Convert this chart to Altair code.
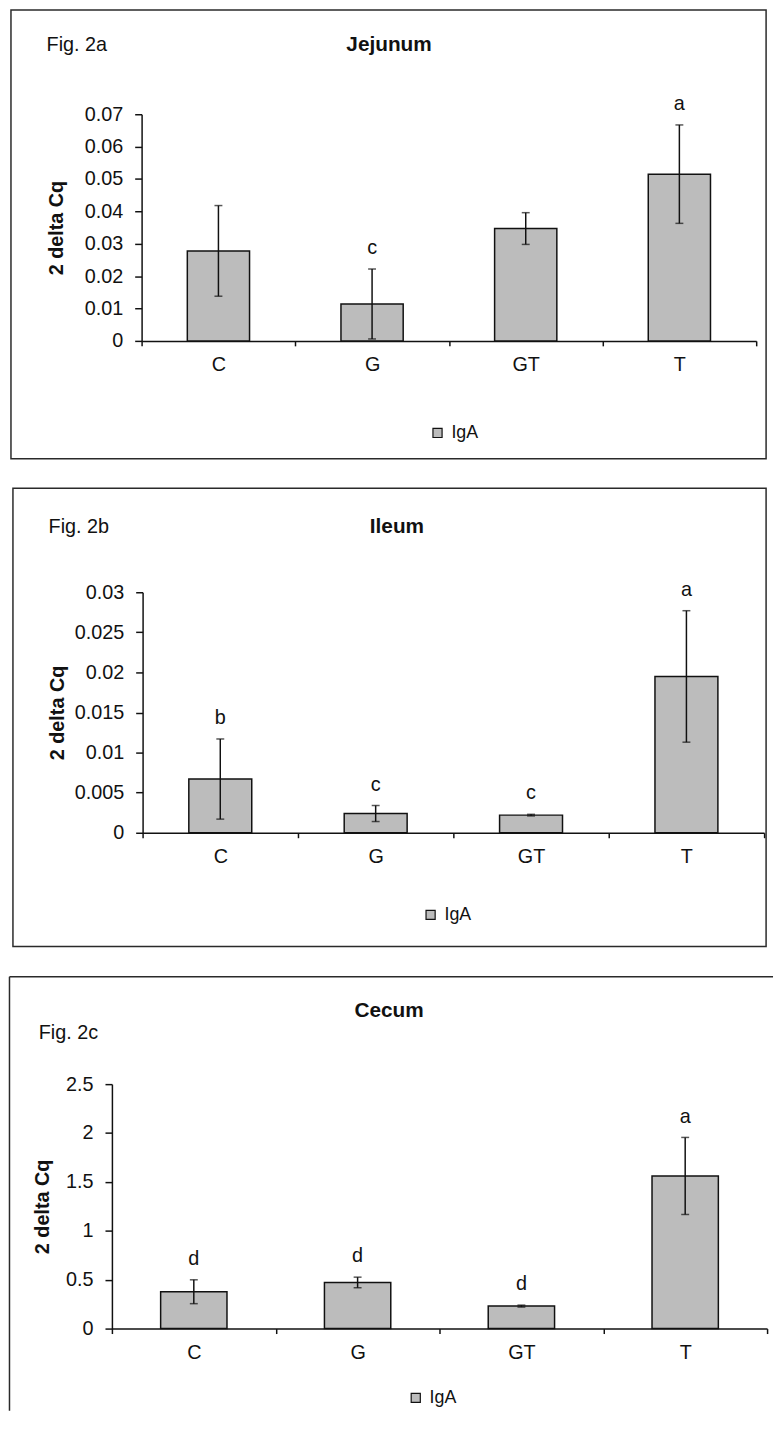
import altair as alt
import pandas as pd

categories = ["C", "G", "GT", "T"]

jejunum_values = [0.0278, 0.0114, 0.0347, 0.0515]
jejunum_errors = [0.0140, 0.0108, 0.0049, 0.0152]
jejunum_letters = ["", "c", "", "a"]
jejunum_ticks = [0, 0.01, 0.02, 0.03, 0.04, 0.05, 0.06, 0.07]

ileum_values = [0.0067, 0.0024, 0.0022, 0.0195]
ileum_errors = [0.0050, 0.0010, 0.0001, 0.0082]
ileum_letters = ["b", "c", "c", "a"]
ileum_ticks = [0, 0.005, 0.01, 0.015, 0.02, 0.025, 0.03]

cecum_values = [0.377, 0.472, 0.230, 1.561]
cecum_errors = [0.122, 0.054, 0.010, 0.394]
cecum_letters = ["d", "d", "d", "a"]
cecum_ticks = [0, 0.5, 1, 1.5, 2, 2.5]

FONT = "Liberation Sans"
BAR_FILL = "#bcbcbc"
INK = "#111111"


def one_row():
    return pd.DataFrame({"k": [0]})


def text_layer(txt, x, y, size, bold, align):
    return alt.Chart(one_row()).mark_text(
        text=txt, font=FONT, fontSize=size, fontWeight="bold" if bold else "normal",
        align=align, baseline="alphabetic", color=INK,
    ).encode(x=alt.value(x), y=alt.value(y))


def panel(title, fig, values, errors, letters, ticks, ymax, shift, w, h,
          title_pos, fig_pos, ytitle_x, legend_pos, frame):
    # shift: horizontal offset of this panel's axes inside the shared left edge
    df = pd.DataFrame({
        "cat": categories, "value": values, "err": errors,
        "letter": letters, "series": ["IgA"] * len(categories),
    })
    base = alt.Chart(df).transform_calculate(
        lower="datum.value - datum.err", upper="datum.value + datum.err"
    )
    xaxis = alt.Axis(
        title=None, labelAngle=0, tickBand="extent", tickSize=5, tickWidth=1.5,
        tickColor=INK, domainColor=INK, domainWidth=1.5, labelFont=FONT,
        labelFontSize=20, labelColor=INK, labelPadding=9, grid=False,
    )
    yaxis_kw = dict(
        title="2 delta Cq", values=ticks, format="~g", tickSize=7, tickWidth=1.5,
        tickColor=INK, domainColor=INK, domainWidth=1.5, labelFont=FONT,
        labelFontSize=20, labelColor=INK, labelPadding=12, grid=False,
        titleFont=FONT, titleFontSize=20, titleFontWeight="bold", titleColor=INK,
        titleX=ytitle_x, titleBaseline="middle",
    )
    if shift:
        yaxis_kw["offset"] = -shift
    yaxis = alt.Axis(**yaxis_kw)
    xenc = alt.X("cat:N", sort=categories,
                 scale=alt.Scale(paddingInner=0, paddingOuter=0, range=[shift, w]),
                 axis=xaxis)
    yscale = alt.Scale(domain=[0, ymax], nice=False, zero=True)

    bars = base.mark_bar(
        width=alt.RelativeBandSize(0.405), stroke=INK, strokeWidth=1.5
    ).encode(
        x=xenc,
        y=alt.Y("value:Q", scale=yscale, axis=yaxis),
        color=alt.Color(
            "series:N", scale=alt.Scale(range=[BAR_FILL]),
            legend=alt.Legend(
                orient="none", legendX=legend_pos[0], legendY=legend_pos[1],
                title=None, symbolType="square", symbolSize=85,
                symbolStrokeColor=INK, symbolStrokeWidth=1.2,
                labelFont=FONT, labelFontSize=18, labelColor=INK, labelOffset=5,
            ),
        ),
    )
    rules = base.mark_rule(color=INK, strokeWidth=1.5).encode(
        x=xenc, y=alt.Y("lower:Q", scale=yscale, axis=yaxis), y2="upper:Q"
    )
    cap_hi = base.mark_tick(color=INK, size=8, thickness=1.5).encode(
        x=xenc, y=alt.Y("upper:Q", scale=yscale, axis=yaxis)
    )
    cap_lo = base.mark_tick(color=INK, size=8, thickness=1.5).encode(
        x=xenc, y=alt.Y("lower:Q", scale=yscale, axis=yaxis)
    )
    letters_layer = base.mark_text(
        dy=-21, font=FONT, fontSize=20, color=INK, baseline="middle"
    ).encode(
        x=xenc, y=alt.Y("upper:Q", scale=yscale, axis=yaxis), text="letter:N"
    )
    layers = [frame, bars, rules, cap_hi, cap_lo, letters_layer,
              text_layer(title, title_pos[0], title_pos[1], 21, True, "center"),
              text_layer(fig, fig_pos[0], fig_pos[1], 20, False, "left")]
    return alt.layer(*layers).properties(width=w, height=h)


def box(x1, x2, y1, y2):
    return alt.Chart(one_row()).mark_rect(
        fillOpacity=0, stroke="#2a2a2a", strokeWidth=1.5
    ).encode(x=alt.value(x1), x2=alt.value(x2), y=alt.value(y1), y2=alt.value(y2))


def open_frame(x1, x2, y1, y2):
    top = alt.Chart(one_row()).mark_rule(color="#2a2a2a", strokeWidth=1.5).encode(
        x=alt.value(x1), x2=alt.value(x2), y=alt.value(y1))
    left = alt.Chart(one_row()).mark_rule(color="#2a2a2a", strokeWidth=1.5).encode(
        x=alt.value(x1), y=alt.value(y1), y2=alt.value(y2))
    return alt.layer(top, left)


# all panels share the same left origin (page x ~112); panels 1 and 2 shift their axes right
p1 = panel("Jejunum", "Fig. 2a", jejunum_values, jejunum_errors, jejunum_letters,
           jejunum_ticks, 0.07, 30, 651, 229,
           title_pos=(280, -64), fig_pos=(-66, -64), ytitle_x=-86,
           legend_pos=(320, 313), frame=box(-102, 661, -105.25, 348))
p2 = panel("Ileum", "Fig. 2b", ileum_values, ileum_errors, ileum_letters,
           ileum_ticks, 0.03, 31, 659, 243,
           title_pos=(288, -60), fig_pos=(-64, -60), ytitle_x=-86,
           legend_pos=(313, 317), frame=box(-100, 661, -105, 358))
p3 = panel("Cecum", "Fig. 2c", cecum_values, cecum_errors, cecum_letters,
           cecum_ticks, 2.5, 0, 662, 247,
           title_pos=(280, -68), fig_pos=(-74, -46), ytitle_x=-70,
           legend_pos=(298, 308), frame=open_frame(-103.5, 668, -108.5, 330))

chart = alt.vconcat(p1, p2, p3, spacing=254, bounds="flush").resolve_scale(
    color="independent").resolve_legend(color="independent").properties(
    padding={"top": -7, "left": 0, "right": 0, "bottom": 0}
).configure_view(stroke="transparent")

chart.save("out.html", embed_options={"renderer": "svg", "actions": False})
